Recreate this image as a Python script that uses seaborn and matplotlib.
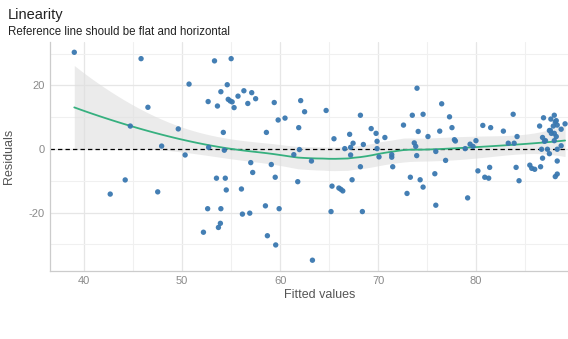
import numpy as np
import pandas as pd
import matplotlib
matplotlib.use("Agg")
import matplotlib.pyplot as plt
import seaborn as sns
from matplotlib.ticker import MultipleLocator

# ---- data ----
fitted = [38.98, 42.65, 44.18, 44.7, 45.8, 46.5, 47.5, 47.9, 49.6, 50.3, 50.7,
          52.17, 52.6, 52.65, 52.7, 53.3, 53.5, 53.6, 53.7, 53.9, 53.95, 53.95, 54.2, 54.3, 54.4,
          54.5, 54.6, 54.7, 55.0, 54.9, 55.1, 55.3, 55.7, 56.05, 56.15, 56.3, 56.7, 56.9, 57.0,
          57.1, 57.2, 57.5,
          58.6, 58.5, 58.7, 59.1, 59.4, 59.5, 59.55, 59.8, 59.9, 60.5, 61.4, 61.8, 61.9, 61.97,
          62.1, 62.5, 63.2, 63.3, 64.7, 65.2, 65.3, 65.5, 66.0, 66.2, 66.4, 66.6, 67.1, 67.2,
          67.2, 67.35, 67.45, 68.2, 68.2, 68.4, 68.5,
          69.3, 69.8, 69.9, 69.9, 70.1, 70.7, 71.4, 71.4, 71.5, 72.6, 72.96, 73.3, 73.5, 73.7,
          73.85, 73.95, 73.98, 74.1, 74.3, 74.6, 74.6, 75.1, 75.8, 75.9, 75.9, 76.3, 76.5, 76.9,
          77.3, 77.55, 77.8, 77.9, 78.9, 79.15, 79.4,
          79.7, 80.0, 80.2, 80.7, 80.9, 81.3, 81.4, 81.5, 82.8, 83.3, 83.9, 83.8, 84.1, 84.2, 84.4,
          85.5, 85.7, 86.0, 86.5, 86.6, 86.7, 86.8, 86.8, 86.9, 87.0, 87.3, 87.5, 87.65, 87.7,
          87.9, 88.0, 88.0, 88.1, 88.2, 88.3, 88.3, 88.1, 88.3, 88.3, 88.2, 88.7, 89.1, 88.0,
          88.7, 87.5, 87.1, 87.6]
residuals = [30.4, -14.2, -9.75, 7.2, 28.4, 13.1, -13.5, 0.9, 6.3, -1.9, 20.4,
             -26.2, -18.8, 14.9, 0.5, 27.7, -9.2, 13.5, -24.7, -23.4, -18.8, 18.0, 5.2, -0.4, -9.2,
             -12.9, 20.2, 15.6, 28.4, 15.1, 14.8, 13.0, 16.6, -12.6, -20.5, 18.3, 14.3, -20.2, -4.3,
             17.7, -7.4, 15.8,
             5.2, -17.9, -27.3, -4.9, 14.6, -8.9, -30.2, 9.1, -18.8, 9.7, -1.8, -10.3, 6.7, -0.2,
             15.2, 11.7, -3.8, -35.0, 12.1, -19.7, -11.7, 3.2, -12.3, -12.7, -13.2, 0.1, 4.6, 0.5,
             -1.9, -9.7, 1.8, 10.6, -5.6, -19.7, 1.4,
             6.4, 4.9, 2.4, 0.1, -2.5, 3.6, -1.8, -2.6, -5.6, 7.5, -14.0, -8.9, 10.6, 1.9,
             0.8, -2.1, 19.1, 5.5, -9.7, 10.9, -12.0, 3.9, -7.8, -0.8, -17.7, 5.6, 14.2, -3.6,
             10.1, 6.7, 2.9, 2.5, 0.1, -15.4, 1.5,
             0.8, 2.6, -6.9, 7.4, -8.9, -9.2, -5.8, 6.7, 5.6, 1.8, 1.8, 10.9, -5.8, 3.9, -10.0,
             -5.1, -6.1, -6.4, 7.2, -5.6, -0.1, 3.6, -2.9, 9.8, 2.4, -0.1, 5.8, 9.4, 4.9,
             7.2, 10.6, 4.9, 8.5, 8.9, -3.8, 7.5, -8.7, -7.9, -0.1, 3.9, 6.2, 7.9, 2.6,
             1.0, -1.5, 2.6, 5.8]

title = "Linearity"
subtitle = "Reference line should be flat and horizontal"
x_label = "Fitted values"
y_label = "Residuals"

df = pd.DataFrame({"Fitted values": fitted, "Residuals": residuals})


# ---- loess smoother (local quadratic, span 0.75) with confidence band ----
def loess(x, y, xg, span=0.75):
    n = len(x)
    q = int(np.floor(n * span))

    def row(x0):
        d = np.abs(x - x0)
        h = np.sort(d)[q - 1]
        w = np.clip(1 - (d / h) ** 3, 0, None) ** 3
        X = np.column_stack([np.ones(n), x - x0, (x - x0) ** 2])
        XtW = X.T * w
        A = np.linalg.solve(XtW @ X, XtW)
        return A[0]

    L = np.array([row(v) for v in x])
    res = y - L @ y
    IL = np.eye(n) - L
    M = IL.T @ IL
    d1 = np.trace(M)
    sigma = np.sqrt(np.sum(res ** 2) / d1)
    Lg = np.array([row(v) for v in xg])
    fit = Lg @ y
    se = sigma * np.sqrt(np.sum(Lg ** 2, axis=1))
    tq = 1.975
    return fit, fit - tq * se, fit + tq * se


x = np.asarray(fitted, float)
y = np.asarray(residuals, float)
xg = np.linspace(x.min(), x.max(), 80)
fit, lo, hi = loess(x, y, xg)

# ---- figure ----
sns.set_theme(style="whitegrid")
plt.rcParams["font.family"] = ["Liberation Sans", "DejaVu Sans"]
plt.rcParams["axes.unicode_minus"] = False

fig = plt.figure(figsize=(5.68, 3.39), dpi=100)
ax = fig.add_axes([50 / 568, 1 - 270.7 / 339, 1 - 50 / 568, (270.7 - 41.8) / 339])
ax.set_facecolor("white")

ax.fill_between(xg, lo, hi, color="#dedede", alpha=0.6, linewidth=0, zorder=1)
ax.axhline(0, color="black", linestyle=(0, (3.5, 2.5)), linewidth=0.9, zorder=2)
sns.lineplot(x=xg, y=fit, ax=ax, color="#36b07f", linewidth=1.3, zorder=3)
sns.scatterplot(data=df, x="Fitted values", y="Residuals", ax=ax, color="#3a78b0",
                s=15, marker="o", edgecolor="none", alpha=0.95, zorder=4)

ax.set_xlim(36.5, 89.4)
ax.set_ylim(-38.3, 33.7)
ax.xaxis.set_major_locator(MultipleLocator(10))
ax.xaxis.set_minor_locator(MultipleLocator(5))
ax.yaxis.set_major_locator(MultipleLocator(20))
ax.yaxis.set_minor_locator(MultipleLocator(10))
ax.grid(which="major", color="#e6e6e6", linewidth=0.9)
ax.grid(which="minor", color="#f0f0f0", linewidth=0.8)
ax.set_axisbelow(True)

for s in ["top", "right"]:
    ax.spines[s].set_visible(False)
for s in ["left", "bottom"]:
    ax.spines[s].set_visible(True)
    ax.spines[s].set_color("#cccccc")
    ax.spines[s].set_linewidth(0.9)

ax.tick_params(axis="both", which="both", length=0, labelsize=8, labelcolor="#8a8a8a", pad=4)
ax.set_xlabel(x_label, fontsize=9, color="#555555")
ax.set_ylabel(y_label, fontsize=9, color="#555555")
ax.xaxis.set_label_coords((320 - 50) / 518, -0.08)
ax.yaxis.set_label_coords(-0.068, 0.5)

fig.text(8 / 568, 1 - 19 / 339, title, fontsize=10.5, color="#222222", va="baseline")
fig.text(8 / 568, 1 - 35 / 339, subtitle, fontsize=8.3, color="#222222", va="baseline")

fig.savefig("out.png", dpi=100)
